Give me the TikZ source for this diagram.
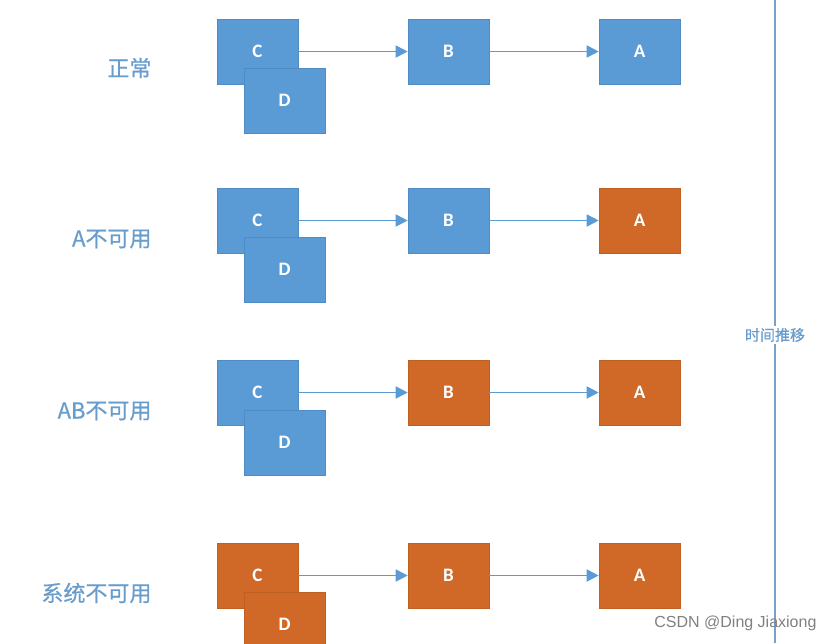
\documentclass[tikz,border=0pt]{standalone}
\usepackage{fontspec}
\setsansfont{Carlito}
\newfontfamily\cjk[FakeBold=0.6]{Noto Sans CJK SC}
\newfontfamily\markfont{Liberation Sans}
\definecolor{boxblue}{RGB}{91,155,213}
\definecolor{edgeblue}{RGB}{80,140,196}
\definecolor{boxorange}{RGB}{208,105,40}
\definecolor{edgeorange}{RGB}{190,96,36}
\definecolor{labelblue}{RGB}{104,156,204}
\definecolor{lineblue}{RGB}{120,160,200}
\usetikzlibrary{arrows.meta}
\begin{document}
\begin{tikzpicture}[x=1pt, y=-1pt,
    box/.style={rectangle, draw=edgeblue, fill=boxblue, line width=0.6pt, minimum width=81pt, minimum height=65pt, text=white, font=\sffamily\bfseries\fontsize{19}{19}\selectfont},
    down/.style={box, draw=edgeorange, fill=boxorange},
    state/.style={anchor=east, text=labelblue, font=\cjk\fontsize{22}{22}\selectfont},
    link/.style={-{Triangle[length=12pt, width=12pt]}, line width=1.8pt, boxblue}]
    \useasboundingbox (0,0) rectangle (835,643);

    % Normal
    \node[state] (s1) at (155,68) {正常};
    \node[box] (c1) at (257.5,51.5) {C};
    \node[box] (d1) at (284.5,100.5) {D};
    \node[box] (b1) at (448.5,51.5) {B};
    \node[box] (a1) at (639.5,51.5) {A};
    \draw[link] (c1) -- (b1);
    \draw[link] (b1) -- (a1);

    % A down
    \node[state] (s2) at (155,239) {A不可用};
    \node[box] (c2) at (257.5,220.5) {C};
    \node[box] (d2) at (284.5,269.5) {D};
    \node[box] (b2) at (448.5,220.5) {B};
    \node[down] (a2) at (639.5,220.5) {A};
    \draw[link] (c2) -- (b2);
    \draw[link] (b2) -- (a2);

    % A and B down
    \node[state] (s3) at (155,411) {AB不可用};
    \node[box] (c3) at (257.5,392.5) {C};
    \node[box] (d3) at (284.5,442.5) {D};
    \node[down] (b3) at (448.5,392.5) {B};
    \node[down] (a3) at (639.5,392.5) {A};
    \draw[link] (c3) -- (b3);
    \draw[link] (b3) -- (a3);

    % Everything down
    \node[state] (s4) at (155,593) {系统不可用};
    \node[down] (c4) at (257.5,575.5) {C};
    \node[down] (d4) at (284.5,624.5) {D};
    \node[down] (b4) at (448.5,575.5) {B};
    \node[down] (a4) at (639.5,575.5) {A};
    \draw[link] (c4) -- (b4);
    \draw[link] (b4) -- (a4);

    % Time axis
    \coordinate (top) at (775,0);
    \coordinate (bottom) at (775,643);
    \draw[lineblue, line width=1.4pt] (top) -- (bottom);
    \node[fill=white, inner sep=2pt, text=labelblue, font=\cjk\fontsize{15}{15}\selectfont] (time) at (775,335) {时间推移};

    % Watermark
    \node[anchor=east, text=gray, font=\markfont\fontsize{16}{16}\selectfont] (mark) at (820,623) {CSDN @Ding Jiaxiong};
\end{tikzpicture}
\end{document}
